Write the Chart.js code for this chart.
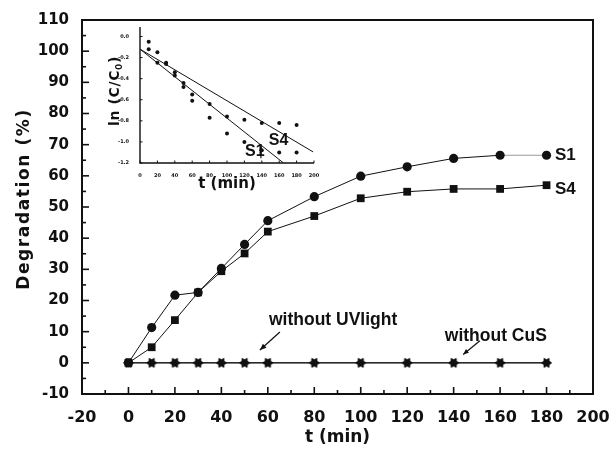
<!DOCTYPE html>
<html>
<head>
<meta charset="utf-8">
<script src="https://cdn.jsdelivr.net/npm/chart.js@4.4.1/dist/chart.umd.min.js"></script>
<style>
html, body { margin: 0; padding: 0; background: #fff; }
#wrap { position: relative; width: 616px; height: 451px; }
#main { position: absolute; left: 0; top: 0; width: 616px; height: 451px; }
#inset { position: absolute; left: 100px; top: 15px; width: 225px; height: 180px; }
</style>
</head>
<body>
<div id="wrap">
  <div id="main"><canvas id="canvas-main"></canvas></div>
  <div id="inset"><canvas id="canvas-inset"></canvas></div>
</div>
<script>
// degradation (%) vs time
const times = [0, 10, 20, 30, 40, 50, 60, 80, 100, 120, 140, 160, 180];
const s1 = [0, 11.3, 21.7, 22.6, 30.3, 38.0, 45.6, 53.3, 59.9, 62.9, 65.6, 66.6, 66.6];
const s4 = [0, 5.0, 13.7, 22.6, 29.4, 35.1, 42.1, 47.1, 52.8, 54.9, 55.8, 55.8, 57.0];
const noUV = [0, 0, 0, 0, 0, 0, 0, 0, 0, 0, 0, 0, 0];
const noCuS = [0, 0, 0, 0, 0, 0, 0, 0, 0, 0, 0, 0, 0];

// inset: ln(C/C0) vs time
const insetTimes = [10, 20, 30, 40, 50, 60, 80, 100, 120, 140, 160, 180];
const lnS1 = [-0.12, -0.25, -0.26, -0.37, -0.48, -0.61, -0.77, -0.92, -1.0, -1.08, -1.1, -1.1];
const lnS4 = [-0.05, -0.15, -0.25, -0.34, -0.44, -0.55, -0.64, -0.76, -0.79, -0.82, -0.82, -0.84];
const fitS1Times = [0, 165];
const fitS1 = [-0.12, -1.2];
const fitS4Times = [0, 199];
const fitS4 = [-0.12, -1.095];

const FONT = 'DejaVu Sans';
const LABEL_FONT = 'Liberation Sans';
const INK = '#111';

const pts = (xs, ys) => xs.map((x, i) => ({x: x, y: ys[i]}));

// filled six-pointed star marker
const hexStar = (r) => {
    const c = document.createElement('canvas');
    const s = Math.ceil(2 * r + 2);
    c.width = s; c.height = s;
    const g = c.getContext('2d');
    g.fillStyle = INK;
    const m = s / 2;
    [0, Math.PI].forEach(off => {
        g.beginPath();
        for (let k = 0; k < 3; k++) {
            const a = off + k * 2 * Math.PI / 3;
            g.lineTo(m + r * Math.cos(a), m + r * Math.sin(a));
        }
        g.closePath();
        g.fill();
    });
    return c;
};

// inward major / minor ticks plus axis frame
const inTicks = {
    id: 'inTicks',
    afterDraw(chart, args, o) {
        const {ctx, chartArea: a, scales: {x, y}} = chart;
        ctx.save();
        ctx.strokeStyle = INK;
        ctx.lineWidth = o.tickWidth;
        const isMajor = (v, min, step) => {
            const q = (v - min) / step;
            return Math.abs(q - Math.round(q)) < 1e-6;
        };
        const nx = Math.round((x.max - x.min) / o.xMinor);
        for (let i = 0; i <= nx; i++) {
            const v = x.min + i * o.xMinor;
            const px = x.getPixelForValue(v);
            const len = isMajor(v, x.min, o.xMajor) ? o.major : o.minor;
            ctx.beginPath(); ctx.moveTo(px, a.bottom); ctx.lineTo(px, a.bottom - len); ctx.stroke();
        }
        const ny = Math.round((y.max - y.min) / o.yMinor);
        for (let i = 0; i <= ny; i++) {
            const v = o.yStart + i * o.yMinor;
            if (v > y.max + 1e-9) break;
            const py = y.getPixelForValue(v);
            const len = isMajor(v, o.yStart, o.yMajor) ? o.major : o.minor;
            ctx.beginPath(); ctx.moveTo(a.left, py); ctx.lineTo(a.left + len, py); ctx.stroke();
        }
        ctx.lineWidth = o.frameWidth;
        ctx.beginPath();
        if (o.box) {
            ctx.rect(a.left, a.top, a.right - a.left, a.bottom - a.top);
        } else {
            ctx.moveTo(a.left, a.top); ctx.lineTo(a.left, a.bottom); ctx.lineTo(a.right, a.bottom);
        }
        ctx.stroke();
        ctx.restore();
    }
};

const arrow = (ctx, x0, y0, x1, y1, head) => {
    const ang = Math.atan2(y1 - y0, x1 - x0);
    ctx.beginPath(); ctx.moveTo(x0, y0); ctx.lineTo(x1, y1); ctx.stroke();
    ctx.beginPath();
    ctx.moveTo(x1, y1);
    ctx.lineTo(x1 - head * Math.cos(ang - 0.4), y1 - head * Math.sin(ang - 0.4));
    ctx.lineTo(x1 - head * Math.cos(ang + 0.4), y1 - head * Math.sin(ang + 0.4));
    ctx.closePath(); ctx.fill();
};

// labels, arrows and rotated axis titles
const notes = {
    id: 'notes',
    afterDraw(chart, args, o) {
        const {ctx, scales: {x, y}} = chart;
        const a = chart.chartArea;
        ctx.save();
        ctx.fillStyle = INK; ctx.strokeStyle = INK; ctx.lineWidth = 1.2;
        ctx.textBaseline = 'middle'; ctx.textAlign = 'left';
        (o.texts || []).forEach(t => {
            ctx.font = 'bold ' + t.size + 'px "' + LABEL_FONT + '"';
            ctx.fillText(t.text, x.getPixelForValue(t.x), y.getPixelForValue(t.y));
        });
        (o.arrows || []).forEach(r => {
            arrow(ctx, x.getPixelForValue(r.x0), y.getPixelForValue(r.y0),
                  x.getPixelForValue(r.x1), y.getPixelForValue(r.y1), r.head);
        });
        if (o.yTitle) {
            const t = o.yTitle;
            ctx.save();
            ctx.translate(t.cx, t.cy);
            ctx.rotate(-Math.PI / 2);
            ctx.textAlign = 'left';
            const big = 'bold ' + t.size + 'px "' + FONT + '"';
            const small = 'bold ' + Math.round(t.size * 0.65) + 'px "' + FONT + '"';
            if ('letterSpacing' in ctx) ctx.letterSpacing = (t.spacing || 0) + 'px';
            ctx.font = big;
            const w1 = ctx.measureText(t.text).width;
            let w2 = 0, w3 = 0;
            if (t.sub) {
                ctx.font = small;
                w2 = ctx.measureText(t.sub).width;
                ctx.font = big;
                w3 = ctx.measureText(t.tail).width;
            }
            const sx = -(w1 + w2 + w3) / 2;
            ctx.font = big;
            ctx.fillText(t.text, sx, 0);
            if (t.sub) {
                ctx.font = small;
                ctx.fillText(t.sub, sx + w1, 5);
                ctx.font = big;
                ctx.fillText(t.tail, sx + w1 + w2, 0);
            }
            ctx.restore();
        }
        ctx.restore();
    }
};

const mainChart = new Chart(document.getElementById('canvas-main').getContext('2d'), {
    type: 'line',
    data: {
        datasets: [{
            label: 'without UVlight',
            data: pts(times, noUV),
            borderColor: INK, borderWidth: 1,
            pointStyle: hexStar(5.5), pointRadius: 5.5,
            backgroundColor: INK
        }, {
            label: 'without CuS',
            data: pts(times, noCuS),
            borderColor: INK, borderWidth: 1,
            pointStyle: hexStar(5.5), pointRadius: 5.5,
            backgroundColor: INK
        }, {
            label: 'S4',
            data: pts(times, s4),
            borderColor: INK, borderWidth: 1,
            pointStyle: 'rect', pointRadius: 5.5,
            backgroundColor: INK, pointBorderWidth: 0
        }, {
            label: 'S1',
            data: pts(times, s1),
            borderColor: INK, borderWidth: 1,
            segment: { borderColor: c => c.p0DataIndex === 11 ? '#9a9a9a' : INK },
            pointStyle: 'circle', pointRadius: 4.6,
            backgroundColor: INK, pointBorderWidth: 0
        }]
    },
    options: {
        responsive: true,
        maintainAspectRatio: false,
        animation: false,
        layout: { padding: { left: 0, top: 20, right: 23, bottom: 0 } },
        plugins: {
            legend: { display: false },
            tooltip: { enabled: false },
            inTicks: { xMinor: 10, xMajor: 20, yMinor: 5, yMajor: 10, yStart: -10,
                       major: 7, minor: 4, tickWidth: 1.6, frameWidth: 2, box: true },
            notes: {
                texts: [
                    { text: 'without UVlight', x: 60.5, y: 13.7, size: 17.5 },
                    { text: 'without CuS', x: 136.2, y: 8.4, size: 17.5 },
                    { text: 'S1', x: 183.6, y: 66.7, size: 17 },
                    { text: 'S4', x: 183.6, y: 55.7, size: 17 }
                ],
                arrows: [
                    { x0: 65.2, y0: 9.9, x1: 56.6, y1: 4.1, head: 7 },
                    { x0: 151.3, y0: 7.1, x1: 144.1, y1: 2.7, head: 6 }
                ],
                yTitle: { text: 'Degradation (%)', size: 17, spacing: 1.6, cx: 25, cy: 199 }
            }
        },
        scales: {
            x: {
                type: 'linear', min: -20, max: 200,
                grid: { display: false }, border: { display: false },
                ticks: { stepSize: 20, color: INK, padding: 6, font: { family: FONT, size: 16, weight: 'bold' } },
                title: { display: true, text: 't (min)', color: INK,
                         font: { family: FONT, size: 17, weight: 'bold' }, padding: { top: 0, bottom: 3 } },
                afterFit: s => { s.height = 57; }
            },
            y: {
                min: -10, max: 110,
                grid: { display: false }, border: { display: false },
                ticks: { stepSize: 10, color: INK, padding: 5, font: { family: FONT, size: 15, weight: 'bold' } },
                afterFit: s => { s.width = 82; }
            }
        }
    },
    plugins: [inTicks, notes]
});

const insetChart = new Chart(document.getElementById('canvas-inset').getContext('2d'), {
    type: 'line',
    data: {
        datasets: [{
            label: 'S1',
            data: pts(insetTimes, lnS1),
            showLine: false, pointRadius: 2, pointBorderWidth: 0,
            backgroundColor: INK
        }, {
            label: 'S4',
            data: pts(insetTimes, lnS4),
            showLine: false, pointRadius: 2, pointBorderWidth: 0,
            backgroundColor: INK
        }, {
            label: 'S1 fit',
            data: pts(fitS1Times, fitS1),
            borderColor: INK, borderWidth: 1, pointRadius: 0
        }, {
            label: 'S4 fit',
            data: pts(fitS4Times, fitS4),
            borderColor: INK, borderWidth: 1, pointRadius: 0
        }]
    },
    options: {
        responsive: true,
        maintainAspectRatio: false,
        animation: false,
        layout: { padding: { left: 0, top: 12, right: 11, bottom: 0 } },
        plugins: {
            legend: { display: false },
            tooltip: { enabled: false },
            inTicks: { xMinor: 20, xMajor: 20, yMinor: 0.2, yMajor: 0.2, yStart: -1.2,
                       major: 2.5, minor: 2.5, tickWidth: 1, frameWidth: 1.4, box: false },
            notes: {
                texts: [
                    { text: 'S4', x: 148, y: -0.985, size: 16 },
                    { text: 'S1', x: 120.7, y: -1.09, size: 16 }
                ],
                arrows: [
                    { x0: 139, y0: -1.155, x1: 139, y1: -1.04, head: 5 }
                ],
                yTitle: { text: 'ln (C/C', sub: '0', tail: ')', size: 14, spacing: 0.6, cx: 15, cy: 76 }
            }
        },
        scales: {
            x: {
                type: 'linear', min: 0, max: 200,
                grid: { display: false }, border: { display: false },
                ticks: { stepSize: 20, color: INK, padding: 2, font: { family: FONT, size: 5, weight: 'bold' } },
                title: { display: true, text: 't (min)', color: INK,
                         font: { family: FONT, size: 15, weight: 'bold' }, padding: { top: 0, bottom: 2 } },
                afterFit: s => { s.height = 32; }
            },
            y: {
                min: -1.2, max: 0.09,
                grid: { display: false }, border: { display: false },
                afterBuildTicks: s => {
                    s.ticks = s.ticks.filter(t => Math.abs(t.value * 5 - Math.round(t.value * 5)) < 1e-6);
                },
                ticks: { stepSize: 0.2, color: INK, padding: 3,
                         font: { family: FONT, size: 5, weight: 'bold' },
                         callback: v => (Math.abs(v) < 1e-9 ? 0 : v).toFixed(1) },
                afterFit: s => { s.width = 40; }
            }
        }
    },
    plugins: [inTicks, notes]
});
</script>
</body>
</html>
